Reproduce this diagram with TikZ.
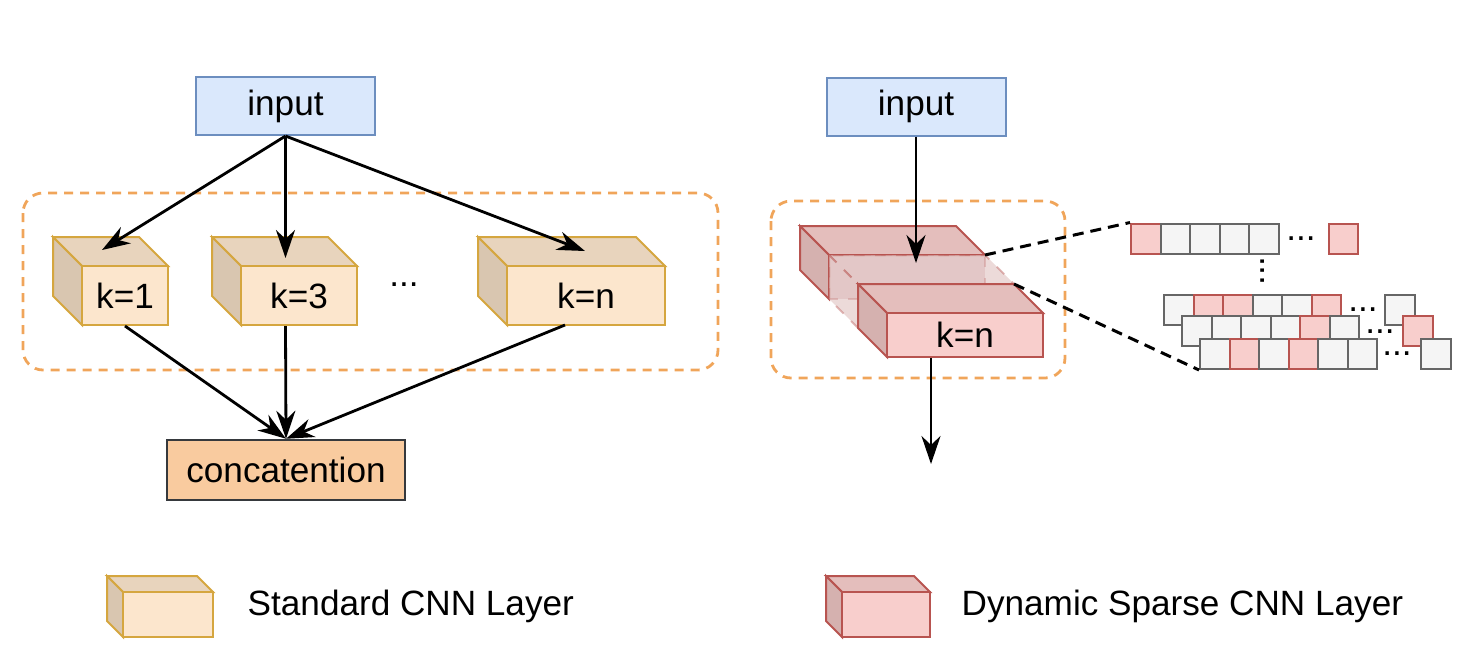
\documentclass[tikz,border=0pt]{standalone}
\usepackage{fontspec}
\setmainfont{Liberation Sans}
\usetikzlibrary{arrows.meta}

\definecolor{InBlue}{HTML}{DAE8FC}
\definecolor{InBlueLine}{HTML}{6C8EBF}
\definecolor{StdFill}{HTML}{FCE6CD}
\definecolor{StdLine}{HTML}{D5A63F}
\definecolor{DynFill}{HTML}{F8CECC}
\definecolor{DynLine}{HTML}{B85450}
\definecolor{CatFill}{HTML}{F9CB9F}
\definecolor{CatLine}{HTML}{36393D}
\definecolor{GroupLine}{HTML}{F0A55A}
\definecolor{CellFill}{HTML}{F5F5F5}
\definecolor{CellLine}{HTML}{666666}

% name, front face x0/y0/x1/y1, depth, colour family, label
\newcommand{\cnncube}[8]{%
    \filldraw[#7top] (#2,#3) -- ++(-#6,-#6) -- ({#4-#6},{#3-#6}) -- (#4,#3) -- cycle;
    \filldraw[#7side] (#2,#3) -- ++(-#6,-#6) -- ({#2-#6},{#5-#6}) -- (#2,#5) -- cycle;
    \node[#7face, minimum width={(#4-#2)*0.1mm}, minimum height={(#5-#3)*0.1mm}] (#1) at ({(#2+#4)/2},{(#3+#5)/2}) {#8};
}

\tikzset{
    >={Stealth[length=2.8mm,width=1.9mm,inset=0.9mm]},
    flow/.style={->,line width=0.28mm},
    inbox/.style={draw=InBlueLine,fill=InBlue,line width=0.2mm,minimum width=17.9mm,minimum height=5.8mm,inner sep=0pt},
    catbox/.style={draw=CatLine,fill=CatFill,line width=0.25mm,minimum width=23.8mm,minimum height=6mm,inner sep=0pt},
    group/.style={draw=GroupLine,line width=0.28mm,dash pattern=on 0.9mm off 0.7mm,rounded corners=2mm},
    stdtop/.style={fill=StdFill!92!black,draw=StdLine,line width=0.2mm},
    stdside/.style={fill=StdFill!86!black,draw=StdLine,line width=0.2mm},
    stdface/.style={fill=StdFill,draw=StdLine,line width=0.2mm,inner sep=0pt},
    dyntop/.style={fill=DynFill!92!black,draw=DynLine,line width=0.2mm},
    dynside/.style={fill=DynFill!86!black,draw=DynLine,line width=0.2mm},
    dynface/.style={fill=DynFill,draw=DynLine,line width=0.2mm,inner sep=0pt},
    ghost/.style={fill=DynFill!88!black,fill opacity=0.5,draw=DynLine,draw opacity=0.4,line width=0.2mm,dashed},
    oncell/.style={fill=DynFill,draw=DynLine,line width=0.2mm,minimum width=2.95mm,minimum height=3mm,inner sep=0pt},
    offcell/.style={fill=CellFill,draw=CellLine,line width=0.2mm,minimum width=2.95mm,minimum height=3mm,inner sep=0pt},
    ellip/.style={inner sep=0pt},
    zoomline/.style={draw=black,line width=0.3mm,dash pattern=on 1.1mm off 0.7mm}
}

\begin{document}
\begin{tikzpicture}[x=0.1mm,y=-0.1mm]
    \useasboundingbox (0,0) rectangle (1468,654);

    % standard CNN branch
    \node[inbox] (inL) at (285.5,106) {input};
    \draw[group] (23,193) rectangle (718,370);
    \foreach \nm/\xa/\xb/\lbl in {k1/82/168/k=1, k3/241/357/k=3, kn/507/665/k=n}
        {\cnncube{\nm}{\xa}{266}{\xb}{325}{29}{std}{\lbl}}
    \node[ellip] (gap) at (404,285) {...};
    \node[catbox] (cat) at (286,470) {concatention};

    \coordinate (k1in) at (102,250);
    \coordinate (knin) at (585,251);
    \coordinate (knout) at (565,325);
    \draw[flow] (inL.south) -- (k1in);
    \draw[flow] (inL.south) -- (inL.south |- 0,258);
    \draw[flow] (inL.south) -- (knin);
    \draw[flow] (k1.south) -- (cat.north);
    \draw[flow] (k3.south -| inL.south) -- (cat.north);
    \draw[flow] (knout) -- (cat.north);

    % dynamic sparse branch
    \node[inbox] (inR) at (916,106.5) {input};
    \draw[group] (771,201) rectangle (1065,378);

    \filldraw[dyntop] (829,255) -- (800,226) -- (956,226) -- (985,255) -- cycle;
    \filldraw[dynside] (829,255) -- (800,226) -- (800,270) -- (829,299) -- cycle;
    \filldraw[ghost] (829,255) rectangle (985,299);
    \filldraw[ghost] (829,255) -- (858,284) -- (1014,284) -- (985,255) -- cycle;
    \filldraw[ghost] (829,255) -- (858,284) -- (858,328) -- (829,299) -- cycle;
    \cnncube{dsn}{887}{313}{1043}{357}{29}{dyn}{k=n}
    \coordinate (dsbtop) at (985,255);
    \coordinate (dsntop) at (1014,284);

    \coordinate (dsin) at (916,263);
    \coordinate (dsout) at (931,464);
    \draw[flow] (inR.south) -- (dsin);
    \draw[flow] (dsn.south -| dsout) -- (dsout);

    % kernel weights, red = kept
    \foreach \st [count=\i] in {oncell,offcell,offcell,offcell,offcell}
        \node[\st] (ra\i) at ({1131+(\i-0.5)*29.5},238.5) {};
    \node[ellip] (rad) at (1301,238.5) {...};
    \node[oncell] (rae) at (1343.5,238.5) {};
    \node[ellip,rotate=90] (vdots) at (1263,271) {...};

    \foreach \st [count=\i] in {offcell,oncell,oncell,offcell,offcell,oncell}
        \node[\st] (rb\i) at ({1164+(\i-0.5)*29.5},310) {};
    \node[ellip] (rbd) at (1363,310) {...};
    \node[offcell] (rbe) at (1400,310) {};

    \foreach \st [count=\i] in {offcell,offcell,offcell,offcell,oncell,offcell}
        \node[\st] (rc\i) at ({1182+(\i-0.5)*29.5},331) {};
    \node[ellip] (rcd) at (1380,332) {...};
    \node[oncell] (rce) at (1418,331) {};

    \foreach \st [count=\i] in {offcell,oncell,offcell,oncell,offcell,offcell}
        \node[\st] (rd\i) at ({1200+(\i-0.5)*29.5},354) {};
    \node[ellip] (rdd) at (1397,354) {...};
    \node[offcell] (rde) at (1436,354) {};

    \draw[zoomline] (dsbtop) -- (ra1.north west);
    \draw[zoomline] (dsntop) -- (rd1.south west);

    % legend
    \cnncube{legstd}{123}{592}{213}{637}{16}{std}{}
    \node[anchor=base west,inner sep=0pt] (legstdtxt) at (247,615) {Standard CNN Layer};
    \cnncube{legdyn}{842}{592}{930}{637}{16}{dyn}{}
    \node[anchor=base west,inner sep=0pt] (legdyntxt) at (961,615) {Dynamic Sparse CNN Layer};
\end{tikzpicture}
\end{document}
